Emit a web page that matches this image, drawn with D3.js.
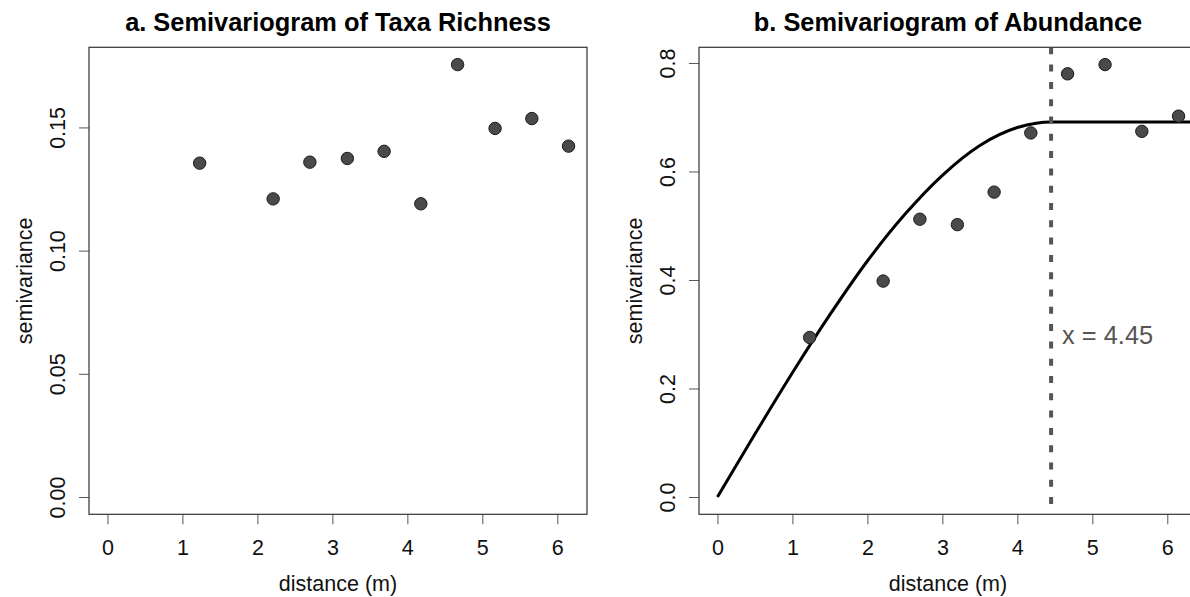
<!DOCTYPE html>
<html>
<head>
<meta charset="utf-8">
<script src="https://cdn.jsdelivr.net/npm/d3@7"></script>
<style>
  body { margin: 0; background: #fff; }
  svg text { font-family: "Liberation Sans", Arial, sans-serif; }
</style>
</head>
<body>
<div id="chart"></div>
<script>
// data
const distance = [1.23, 2.21, 2.70, 3.20, 3.69, 4.18, 4.67, 5.17, 5.66, 6.15];
const richness = [0.1355, 0.1210, 0.1359, 0.1374, 0.1403, 0.1190, 0.1755, 0.1496, 0.1536, 0.1424];
const abundance = [0.294, 0.398, 0.512, 0.502, 0.562, 0.671, 0.780, 0.797, 0.674, 0.702];

// fitted model line for panel b
const modelDist = [0, 0.5, 1, 1.5, 2, 2.5, 3, 3.5, 4, 4.25, 4.45, 5, 5.5, 6, 6.4];
const modelGamma = [0, 0.116, 0.229, 0.336, 0.435, 0.521, 0.593, 0.648, 0.681, 0.689, 0.691, 0.691, 0.691, 0.691, 0.691];
const rangeX = 4.45;

const xTicks = [0, 1, 2, 3, 4, 5, 6];
const yTicksA = [0, 0.05, 0.10, 0.15];
const yTicksB = [0, 0.2, 0.4, 0.6, 0.8];

const svgWidth = 1190;
const svgHeight = 597;
const axisFont = 21.5;

const svg = d3.select('#chart')
    .append('svg')
    .attr('width', svgWidth)
    .attr('height', svgHeight);

// R style 4% padding of the axis range
function padded(lo, hi) {
    const p = (hi - lo) * 0.04;
    return [lo - p, hi + p];
}

const plotTop = 47.3, plotBottom = 514.3, plotW = 498;

function drawPanel(opts) {
    const x = d3.scaleLinear()
        .domain(padded(0, d3.max(distance)))
        .range([opts.left, opts.left + plotW]);
    const y = d3.scaleLinear()
        .domain(padded(0, d3.max(opts.values)))
        .range([plotBottom, plotTop]);

    const g = svg.append('g');

    // x axis
    const xAxis = g.append('g')
        .attr('transform', `translate(0, ${plotBottom})`)
        .call(d3.axisBottom(x).tickValues(xTicks).tickSize(10).tickPadding(15.5).tickFormat(d3.format('d')));
    xAxis.select('.domain').remove();
    xAxis.selectAll('line').attr('stroke', '#555');
    xAxis.selectAll('text').attr('font-size', axisFont).attr('fill', '#111');

    // y axis with rotated labels
    const yAxis = g.append('g')
        .attr('transform', `translate(${opts.left}, 0)`)
        .call(d3.axisLeft(y).tickValues(opts.yTicks).tickSize(10).tickFormat(d3.format(opts.yFormat)));
    yAxis.select('.domain').remove();
    yAxis.selectAll('line').attr('stroke', '#555');
    yAxis.selectAll('text')
        .attr('x', null).attr('dy', null)
        .attr('transform', 'translate(-24, 0) rotate(-90)')
        .attr('text-anchor', 'middle')
        .attr('font-size', axisFont)
        .attr('fill', '#111');

    // clip for things inside the box
    const clipId = 'clip-' + opts.id;
    svg.append('clipPath').attr('id', clipId)
        .append('rect')
        .attr('x', opts.left).attr('y', plotTop)
        .attr('width', plotW).attr('height', plotBottom - plotTop);

    const inner = g.append('g').attr('clip-path', `url(#${clipId})`);

    if (opts.model) {
        const line = d3.line()
            .x((d, i) => x(modelDist[i]))
            .y(d => y(d))
            .curve(d3.curveMonotoneX);
        inner.append('path')
            .datum(modelGamma)
            .attr('d', line)
            .attr('fill', 'none')
            .attr('stroke', '#000')
            .attr('stroke-width', 3);

        inner.append('line')
            .attr('x1', x(rangeX)).attr('x2', x(rangeX))
            .attr('y1', plotTop).attr('y2', plotBottom)
            .attr('stroke', '#555')
            .attr('stroke-width', 4)
            .attr('stroke-dasharray', '7,10.3');

        g.append('text')
            .attr('x', x(rangeX) + 11)
            .attr('y', 344.3)
            .attr('font-size', 25.4)
            .attr('fill', '#555')
            .text('x = ' + rangeX);
    }

    // points
    inner.selectAll('circle')
        .data(opts.values)
        .enter()
        .append('circle')
        .attr('cx', (d, i) => x(distance[i]))
        .attr('cy', d => y(d))
        .attr('r', 6.2)
        .attr('fill', '#4a4a4a')
        .attr('stroke', '#1a1a1a')
        .attr('stroke-width', 1);

    // box
    g.append('rect')
        .attr('x', opts.left).attr('y', plotTop)
        .attr('width', plotW).attr('height', plotBottom - plotTop)
        .attr('fill', 'none')
        .attr('stroke', '#333')
        .attr('stroke-width', 1.2);

    // titles and axis labels
    g.append('text')
        .attr('x', opts.left + plotW / 2)
        .attr('y', 31)
        .attr('text-anchor', 'middle')
        .attr('font-size', 25.4)
        .attr('font-weight', 'bold')
        .attr('fill', '#000')
        .text(opts.title);

    g.append('text')
        .attr('x', opts.left + plotW / 2)
        .attr('y', 591)
        .attr('text-anchor', 'middle')
        .attr('font-size', axisFont)
        .attr('fill', '#111')
        .text('distance (m)');

    g.append('text')
        .attr('transform', `translate(${opts.left - 57}, ${(plotTop + plotBottom) / 2}) rotate(-90)`)
        .attr('text-anchor', 'middle')
        .attr('font-size', axisFont)
        .attr('fill', '#111')
        .text('semivariance');
}

drawPanel({
    id: 'a', left: 89, values: richness, yTicks: yTicksA, yFormat: '.2f',
    title: 'a. Semivariogram of Taxa Richness', model: false
});

drawPanel({
    id: 'b', left: 699, values: abundance, yTicks: yTicksB, yFormat: '.1f',
    title: 'b. Semivariogram of Abundance', model: true
});
</script>
</body>
</html>
